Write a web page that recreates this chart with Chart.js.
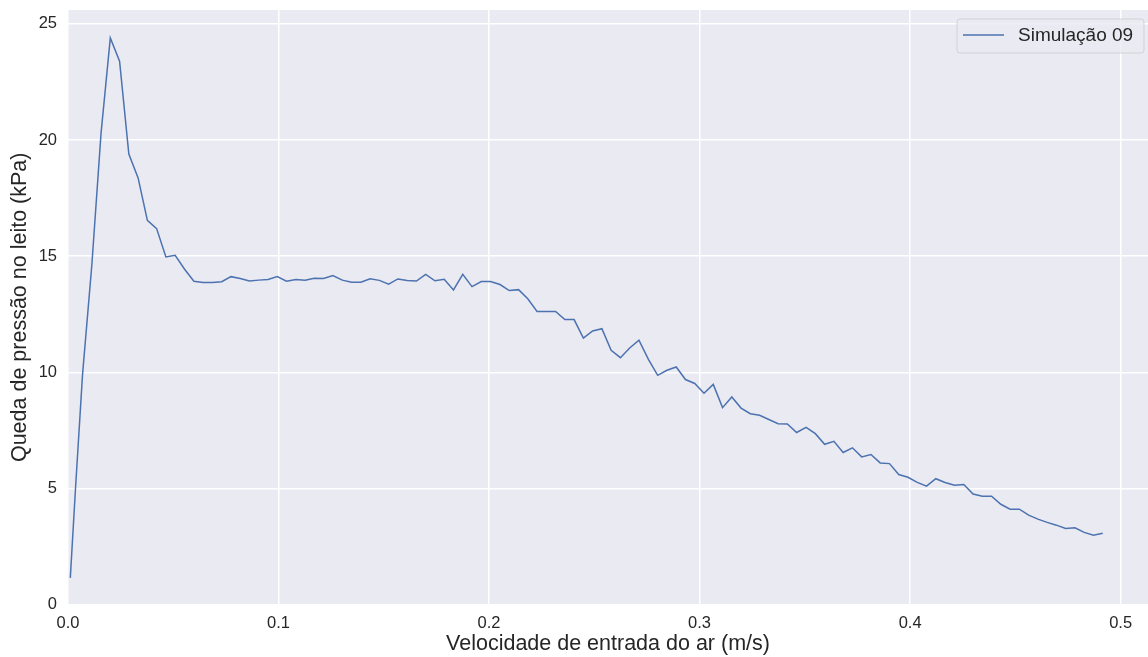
<!DOCTYPE html>
<html lang="pt">
<head>
    <meta charset="UTF-8">
    <title>Queda de pressão no leito - Simulação 09</title>
    <script src="https://cdn.jsdelivr.net/npm/chart.js"></script>
    <style>
        * {
            box-sizing: border-box;
            margin: 0;
            padding: 0;
        }

        body {
            background-color: #fff;
            width: 1148px;
            height: 657px;
            overflow: hidden;
        }
    </style>
</head>
<body>
    <canvas id="pressureChart" width="1148" height="657"></canvas>

    <script>
        // Velocidade de entrada do ar (m/s)
        const velocidade = [
            0.0011, 0.0035, 0.0069, 0.0113, 0.0157,
            0.0201, 0.0245, 0.0289, 0.0333, 0.0377, 0.0421, 0.0465, 0.0509, 0.0553, 0.0598,
            0.0642, 0.0686, 0.0730, 0.0774, 0.0818, 0.0862, 0.0906, 0.0950, 0.0994, 0.1038,
            0.1082, 0.1126, 0.1170, 0.1214, 0.1258, 0.1303, 0.1347, 0.1391, 0.1435, 0.1479,
            0.1523, 0.1567, 0.1611, 0.1655, 0.1699, 0.1743, 0.1787, 0.1831, 0.1875, 0.1919,
            0.1963, 0.2007, 0.2052, 0.2096, 0.2140, 0.2184, 0.2228, 0.2272, 0.2316, 0.2360,
            0.2404, 0.2448, 0.2492, 0.2536, 0.2580, 0.2624, 0.2668, 0.2712, 0.2757, 0.2801,
            0.2845, 0.2889, 0.2933, 0.2977, 0.3021, 0.3065, 0.3109, 0.3153, 0.3197, 0.3241,
            0.3285, 0.3329, 0.3373, 0.3417, 0.3461, 0.3506, 0.3550, 0.3594, 0.3638, 0.3682,
            0.3726, 0.3770, 0.3814, 0.3858, 0.3902, 0.3946, 0.3990, 0.4034, 0.4078, 0.4122,
            0.4166, 0.4211, 0.4255, 0.4299, 0.4343, 0.4387, 0.4431, 0.4475, 0.4519, 0.4563,
            0.4607, 0.4651, 0.4695, 0.4739, 0.4783, 0.4827, 0.4871, 0.4915
        ];

        // Queda de pressão no leito (kPa)
        const quedaPressao = [
            1.15, 4.9, 9.9, 14.6, 20.3,
            24.4, 23.4, 19.4, 18.37, 16.54, 16.19, 14.97, 15.04, 14.45, 13.92,
            13.87, 13.87, 13.9, 14.12, 14.04, 13.93, 13.97, 14.0, 14.12, 13.92,
            14.0, 13.97, 14.05, 14.04, 14.17, 13.97, 13.88, 13.88, 14.03, 13.96,
            13.8, 14.02, 13.95, 13.93, 14.22, 13.94, 14.01, 13.55, 14.22, 13.69,
            13.91, 13.91, 13.78, 13.52, 13.56, 13.17, 12.62, 12.62, 12.62, 12.27,
            12.27, 11.47, 11.78, 11.88, 10.95, 10.63, 11.05, 11.38, 10.56, 9.87,
            10.09, 10.23, 9.69, 9.52, 9.1, 9.48, 8.48, 8.94, 8.46, 8.22,
            8.15, 7.97, 7.79, 7.78, 7.41, 7.63, 7.36, 6.9, 7.03, 6.55,
            6.75, 6.36, 6.46, 6.1, 6.07, 5.6, 5.48, 5.26, 5.1, 5.42,
            5.26, 5.14, 5.17, 4.76, 4.67, 4.67, 4.32, 4.11, 4.11, 3.85,
            3.68, 3.54, 3.42, 3.28, 3.31, 3.11, 2.99, 3.07
        ];

        const xTicks = [0, 0.1, 0.2, 0.3, 0.4, 0.5];
        const yTicks = [0, 5, 10, 15, 20, 25];
        const seriesLabel = 'Simulação 09';

        const fontFamily = '"Liberation Sans", Arial, sans-serif';
        const textColor = '#262626';

        const points = velocidade.map((v, i) => ({ x: v, y: quedaPressao[i] }));

        // seaborn-like grey plot area
        const plotBackground = {
            id: 'plotBackground',
            beforeDraw(chart) {
                const { ctx, chartArea: a } = chart;
                ctx.save();
                ctx.fillStyle = '#eaeaf2';
                ctx.fillRect(a.left, a.top, a.right - a.left, a.bottom - a.top);
                ctx.restore();
            }
        };

        // legend box in the upper right corner
        const cornerLegend = {
            id: 'cornerLegend',
            afterDraw(chart) {
                const { ctx } = chart;
                const ds = chart.data.datasets[0];
                const x = 957, y = 19, w = 187, h = 34;
                ctx.save();
                ctx.beginPath();
                ctx.roundRect(x, y, w, h, 3);
                ctx.fillStyle = 'rgba(234, 234, 242, 0.8)';
                ctx.fill();
                ctx.strokeStyle = 'rgba(204, 204, 204, 0.8)';
                ctx.lineWidth = 1;
                ctx.stroke();

                ctx.beginPath();
                ctx.moveTo(x + 6, y + 16);
                ctx.lineTo(x + 47, y + 16);
                ctx.strokeStyle = ds.borderColor;
                ctx.lineWidth = ds.borderWidth;
                ctx.stroke();

                ctx.fillStyle = textColor;
                ctx.font = '19px ' + fontFamily;
                ctx.textBaseline = 'middle';
                ctx.fillText(ds.label, x + 61, y + 17);
                ctx.restore();
            }
        };

        const ctx = document.getElementById('pressureChart').getContext('2d');
        const pressureChart = new Chart(ctx, {
            type: 'line',
            data: {
                datasets: [{
                    label: seriesLabel,
                    data: points,
                    borderColor: '#4c72b0',
                    borderWidth: 1.5,
                    pointRadius: 0,
                    fill: false,
                    tension: 0
                }]
            },
            options: {
                responsive: false,
                animation: false,
                layout: { padding: { top: 10, right: 0, left: 0, bottom: 0 } },
                plugins: {
                    legend: { display: false },
                    tooltip: { enabled: false }
                },
                scales: {
                    x: {
                        type: 'linear',
                        min: 0,
                        max: 0.513,
                        afterBuildTicks: (scale) => { scale.ticks = xTicks.map(v => ({ value: v })); },
                        afterFit: (scale) => {
                            scale.height = 52.4;
                            scale.paddingLeft = 0;
                            scale.paddingRight = 0;
                        },
                        ticks: {
                            callback: (v) => Number(v).toFixed(1),
                            font: { size: 16.5, family: fontFamily },
                            color: textColor,
                            padding: 9,
                            maxRotation: 0,
                            autoSkip: false
                        },
                        grid: { color: '#ffffff', lineWidth: 1.5, drawTicks: false },
                        border: { display: false },
                        title: {
                            display: true,
                            text: 'Velocidade de entrada do ar (m/s)',
                            font: { size: 21.5, family: fontFamily },
                            color: textColor,
                            padding: { top: 0, bottom: 0 }
                        }
                    },
                    y: {
                        min: 0,
                        max: 25.6,
                        afterBuildTicks: (scale) => { scale.ticks = yTicks.map(v => ({ value: v })); },
                        afterFit: (scale) => {
                            scale.width = 68;
                            scale.paddingTop = 0;
                            scale.paddingBottom = 0;
                        },
                        ticks: {
                            callback: (v) => String(v),
                            font: { size: 16.5, family: fontFamily },
                            color: textColor,
                            padding: 11
                        },
                        grid: { color: '#ffffff', lineWidth: 1.5, drawTicks: false },
                        border: { display: false },
                        title: {
                            display: true,
                            text: 'Queda de pressão no leito (kPa)',
                            font: { size: 21.5, family: fontFamily },
                            color: textColor,
                            padding: { top: 7, bottom: 0 }
                        }
                    }
                }
            },
            plugins: [plotBackground, cornerLegend]
        });
    </script>
</body>
</html>
